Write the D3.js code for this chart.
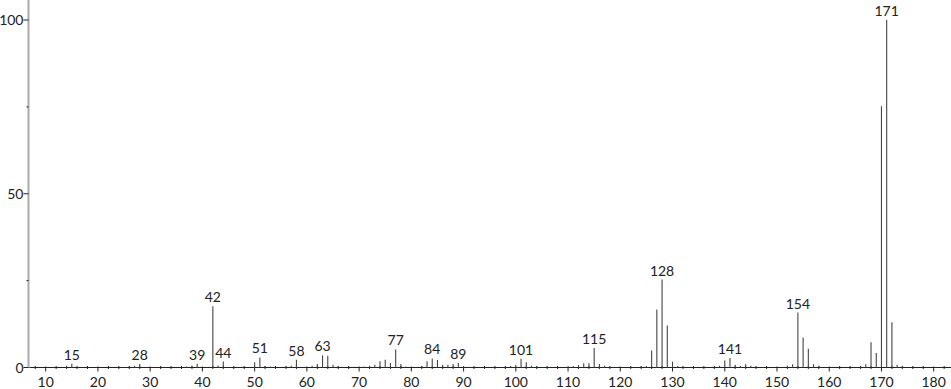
<!DOCTYPE html>
<html><head><meta charset="utf-8">
<script src="https://cdn.jsdelivr.net/npm/d3@7"></script>
<style>
html,body{margin:0;padding:0;background:#fff;}
svg{display:block;font-family:"Lato","DejaVu Sans",sans-serif;}
</style></head>
<body>
<svg id="chart" width="951" height="389"></svg>
<script>
// m/z values and relative intensities (%)
const mz = [14,15,26,27,28,37,38,39,42,43,44,50,51,52,53,56,57,58,61,62,63,64,65,66,
  69,71,72,73,74,75,76,77,78,79,82,83,84,85,86,87,88,89,90,91,
  98,99,100,101,102,103,104,110,111,112,113,114,115,116,117,118,
  122,124,125,126,127,128,129,130,131,139,140,141,142,143,144,145,146,
  152,153,154,155,156,157,158,166,167,168,169,170,171,172,173,174];
const intensity = [0.5,1.1,0.3,0.5,1.0,0.3,0.5,1.1,17.6,0.6,1.7,1.5,2.9,0.4,0.3,0.3,0.5,2.2,0.5,1.0,3.5,3.4,0.8,0.4,
  0.2,0.3,0.5,0.8,1.8,2.2,1.3,5.2,1.0,0.3,0.4,1.8,2.6,2.2,0.8,0.8,1.0,1.3,0.4,0.2,
  0.3,0.4,0.7,2.5,1.5,0.5,0.3,0.3,0.4,0.7,1.2,1.2,5.6,1.0,0.5,0.2,
  0.2,0.3,0.4,4.9,16.7,25.3,12.1,1.7,0.4,0.5,2.0,2.7,0.8,0.4,0.9,0.5,0.2,
  0.5,0.9,15.8,8.6,5.4,0.9,0.5,0.4,0.9,7.3,4.2,75.2,100,13.0,0.8,0.3];
const labelled = [15,28,39,42,44,51,58,63,77,84,89,101,115,128,141,154,171];
const xTicks = [10,20,30,40,50,60,70,80,90,100,110,120,130,140,150,160,170,180];
const yTicks = [0,50,100];

const svg = d3.select("#chart");
const x = d3.scaleLinear().domain([10,180]).range([45.7,933.7]);
const y = d3.scaleLinear().domain([0,100]).range([367.5,20]);
const x0 = 28.5;

// x-axis
const xAxis = svg.append("g").attr("transform","translate(0,"+y(0)+")");
xAxis.append("line").attr("x1",x0).attr("x2",951).attr("stroke","#222").attr("stroke-width",1);
const minor = d3.range(8,187,2).filter(v=>v%10!==0);
xAxis.selectAll(".mn").data(minor).join("line")
  .attr("x1",d=>x(d)).attr("x2",d=>x(d)).attr("y1",-1.5).attr("y2",1.5)
  .attr("stroke","#222").attr("stroke-width",1);
xAxis.selectAll(".mj").data(xTicks).join("line")
  .attr("x1",d=>x(d)).attr("x2",d=>x(d)).attr("y1",-1).attr("y2",4)
  .attr("stroke","#222").attr("stroke-width",1);
xAxis.selectAll(".tl").data(xTicks).join("text")
  .attr("x",d=>x(d)).attr("y",19).attr("text-anchor","middle")
  .attr("font-size",14).attr("fill","#222").text(d=>d);

// y-axis
const yAxis = svg.append("g");
yAxis.append("line").attr("x1",x0).attr("x2",x0).attr("y1",0).attr("y2",y(0)+0.5)
  .attr("stroke","#aaa").attr("stroke-width",2);
yAxis.selectAll(".yt").data(yTicks).join("line")
  .attr("x1",x0-5).attr("x2",x0).attr("y1",d=>y(d)).attr("y2",d=>y(d))
  .attr("stroke","#222").attr("stroke-width",1);
yAxis.selectAll(".ym").data([25,75]).join("line")
  .attr("x1",x0-2).attr("x2",x0).attr("y1",d=>y(d)).attr("y2",d=>y(d))
  .attr("stroke","#222").attr("stroke-width",1);
yAxis.selectAll(".yl").data(yTicks).join("text")
  .attr("x",x0-5).attr("y",d=>y(d)+5).attr("text-anchor","end")
  .attr("font-size",14).attr("fill","#222").text(d=>d);

// peaks
const peaks = mz.map((m,i)=>({m, v:intensity[i]}));
svg.append("g").selectAll("line").data(peaks).join("line")
  .attr("x1",d=>x(d.m)).attr("x2",d=>x(d.m))
  .attr("y1",y(0)).attr("y2",d=>y(d.v))
  .attr("stroke","#444").attr("stroke-width",1.1);

// labels
svg.append("g").selectAll("text").data(peaks.filter(d=>labelled.includes(d.m))).join("text")
  .attr("x",d=>x(d.m)).attr("y",d=>y(d.v)-4).attr("text-anchor","middle")
  .attr("font-size",14).attr("fill","#222").text(d=>d.m);
</script>
</body></html>
